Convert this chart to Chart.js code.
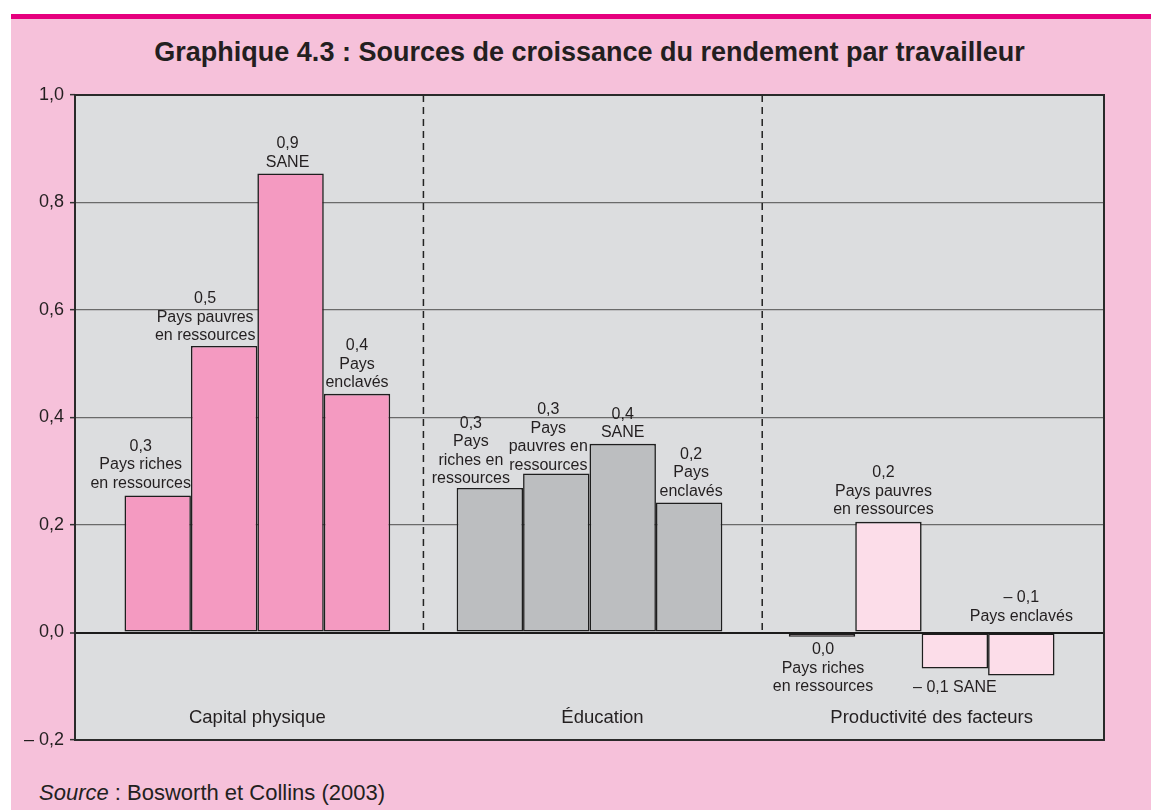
<!DOCTYPE html>
<html lang="fr">
<head>
<meta charset="utf-8">
<title>Graphique 4.3</title>
<script src="https://cdn.jsdelivr.net/npm/chart.js@4/dist/chart.umd.min.js"></script>
<style>
  body { margin: 0; background: #fff; width: 1151px; height: 810px; overflow: hidden;
         font-family: "Liberation Sans", Arial, sans-serif; color: #231F20; }
  #panel { position: absolute; left: 11px; top: 14px; right: 0; bottom: 0;
           background: #F6C1DA; border-top: 5px solid #E6007E; }
  #title { position: absolute; left: 75px; width: 1029px; top: 39px; text-align: center;
           font-weight: bold; font-size: 27px; line-height: 27px; white-space: nowrap; }
  #source { position: absolute; left: 39px; top: 782px; font-size: 22px; line-height: 22px; }
  #chart { position: absolute; left: 0; top: 0; }
</style>
</head>
<body>
<div id="panel"></div>
<div id="title">Graphique 4.3 : Sources de croissance du rendement par travailleur</div>
<div id="source"><i>Source</i> : Bosworth et Collins (2003)</div>
<canvas id="chart" width="1151" height="810"></canvas>
<script>
// catégories (groupes de barres)
const categories = ["Capital physique", "Éducation", "Productivité des facteurs"];
// séries
const seriesNames = ["Pays riches en ressources", "Pays pauvres en ressources", "SANE", "Pays enclavés"];
const richesValues = [0.255, 0.269, -0.008];
const pauvresValues = [0.533, 0.296, 0.206];
const saneValues = [0.854, 0.351, -0.067];
const enclavesValues = [0.444, 0.242, -0.080];
// étiquettes des barres, ligne par ligne
const richesLabels = [["0,3", "Pays riches", "en ressources"], ["0,3", "Pays", "riches en", "ressources"], ["0,0", "Pays riches", "en ressources"]];
const pauvresLabels = [["0,5", "Pays pauvres", "en ressources"], ["0,3", "Pays", "pauvres en", "ressources"], ["0,2", "Pays pauvres", "en ressources"]];
const saneLabels = [["0,9", "SANE"], ["0,4", "SANE"], ["– 0,1 SANE"]];
const enclavesLabels = [["0,4", "Pays", "enclavés"], ["0,2", "Pays", "enclavés"], ["– 0,1", "Pays enclavés"]];
// graduations de l'axe vertical
const yTicks = [-0.2, 0, 0.2, 0.4, 0.6, 0.8, 1.0];

const groupColors = ["#F49AC1", "#BCBEC0", "#FCDDE9"];
const textColor = "#231F20";
const fontFamily = "'Liberation Sans', Arial, sans-serif";

// décalages des étiquettes (px), par série puis par groupe
const labelShiftX = [[-17, -19, 1], [-19, -8, -5], [-3, 0, 0], [0, 2, 0]];
const labelShiftY = [[0, 3, -2], [2, 4, 0], [1, 1, 4], [1, 1, 0]];
const categoryShiftX = [0, 13, 10];
const separators = [0.5, 1.52];

function fmt(v) {
  const r = Math.round(v * 10) / 10;
  if (Math.abs(r) < 1e-9) return "0,0";
  const s = Math.abs(r).toFixed(1).replace(".", ",");
  return r < 0 ? "– " + s : s;
}

function makeDataset(name, values, labels) {
  return {
    label: name,
    data: values.map((v, i) => ({ x: i, y: v })),
    labelLines: labels,
    backgroundColor: groupColors,
    borderColor: "#1e1e1e",
    borderWidth: 1.6,
    borderSkipped: false,
    categoryPercentage: 0.8,
    barPercentage: 1.0,
  };
}

// fond gris de la zone de tracé + séparateurs pointillés
const plotBackground = {
  id: "plotBackground",
  beforeDraw(chart) {
    const { ctx, chartArea: a } = chart;
    ctx.save();
    ctx.fillStyle = "#DCDDDF";
    ctx.fillRect(a.left, a.top, a.right - a.left, a.bottom - a.top);
    ctx.restore();
  },
  beforeDatasetsDraw(chart) {
    const { ctx, chartArea: a, scales } = chart;
    const zero = scales.y.getPixelForValue(0);
    ctx.save();
    ctx.strokeStyle = "#222";
    ctx.lineWidth = 1.5;
    ctx.setLineDash([7, 5]);
    separators.forEach((v) => {
      const x = scales.x.getPixelForValue(v);
      ctx.beginPath();
      ctx.moveTo(x, a.top);
      ctx.lineTo(x, zero);
      ctx.stroke();
    });
    ctx.restore();
  },
};

// étiquettes des barres et des groupes, cadre
const barLabels = {
  id: "barLabels",
  afterDatasetsDraw(chart) {
    const { ctx, chartArea: a, scales } = chart;
    ctx.save();
    ctx.fillStyle = textColor;
    ctx.textAlign = "center";
    ctx.textBaseline = "middle";
    ctx.font = "16px " + fontFamily;
    const lh = 18.5;
    chart.data.datasets.forEach((ds, i) => {
      const meta = chart.getDatasetMeta(i);
      meta.data.forEach((bar, j) => {
        const lines = ds.labelLines[j];
        const v = ds.data[j].y;
        let y0;
        if (v >= 0) {
          y0 = bar.y - 12 - (lines.length - 1) * lh;
        } else if (ds.label === "Pays enclavés") {
          // au-dessus de la ligne zéro
          y0 = bar.base - 17 - (lines.length - 1) * lh;
        } else {
          y0 = bar.y + 15;
        }
        y0 += labelShiftY[i][j];
        const x = bar.x + labelShiftX[i][j];
        lines.forEach((t, k) => ctx.fillText(t, x, y0 + k * lh));
      });
    });
    ctx.font = "18.5px " + fontFamily;
    ctx.textBaseline = "alphabetic";
    categories.forEach((c, i) => {
      ctx.fillText(c, scales.x.getPixelForValue(i) + categoryShiftX[i], a.bottom - 17.5);
    });
    ctx.restore();
  },
  afterDraw(chart) {
    const { ctx, chartArea: a } = chart;
    ctx.save();
    ctx.strokeStyle = "#2a2a2a";
    ctx.lineWidth = 2;
    ctx.strokeRect(a.left, a.top, a.right - a.left, a.bottom - a.top);
    ctx.restore();
  },
};

Chart.defaults.font.family = fontFamily;
Chart.defaults.color = textColor;

new Chart(document.getElementById("chart"), {
  type: "bar",
  data: {
    datasets: [
      makeDataset(seriesNames[0], richesValues, richesLabels),
      makeDataset(seriesNames[1], pauvresValues, pauvresLabels),
      makeDataset(seriesNames[2], saneValues, saneLabels),
      makeDataset(seriesNames[3], enclavesValues, enclavesLabels),
    ],
  },
  options: {
    responsive: false,
    devicePixelRatio: 1,
    animation: false,
    layout: { padding: { left: 11, right: 47, top: 95, bottom: 70 } },
    plugins: {
      legend: { display: false },
      tooltip: { enabled: false },
      title: { display: false },
    },
    scales: {
      x: {
        type: "linear",
        min: -0.549,
        max: 2.549,
        offset: false,
        afterBuildTicks: (s) => { s.ticks = categories.map((c, i) => ({ value: i })); },
        afterFit: (s) => { s.height = 0; },
        ticks: { display: false },
        grid: { display: false },
        border: { display: false },
      },
      y: {
        min: -0.2,
        max: 1.0,
        afterBuildTicks: (s) => { s.ticks = yTicks.map((v) => ({ value: v })); },
        afterFit: (s) => { s.width = 64; },
        ticks: {
          callback: (v) => fmt(v),
          font: { size: 18 },
          color: textColor,
          padding: 6,
        },
        grid: {
          color: (c) => (Math.abs(c.tick.value) < 1e-9 ? "#1b1b1b" : "#6a6a6a"),
          lineWidth: (c) => (Math.abs(c.tick.value) < 1e-9 ? 2 : 1.3),
          tickColor: "#333",
          tickWidth: 1.5,
          tickLength: 5,
        },
        border: { display: false },
      },
    },
  },
  plugins: [plotBackground, barLabels],
});
</script>
</body>
</html>
